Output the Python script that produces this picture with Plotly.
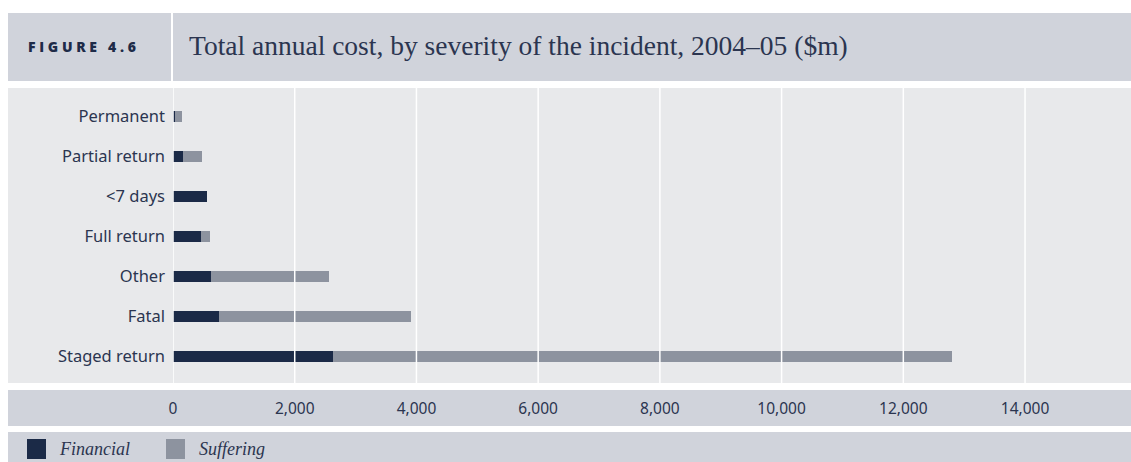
import plotly.graph_objects as go

# Severity categories, listed top to bottom as displayed
categories = ["Permanent", "Partial return", "<7 days", "Full return",
              "Other", "Fatal", "Staged return"]
financial = [28, 160, 564, 455, 625, 756, 2630]      # $m
suffering = [115, 322, 0, 148, 1940, 3157, 10176]    # $m
tick_values = [0, 2000, 4000, 6000, 8000, 10000, 12000, 14000]
tick_labels = ["0", "2,000", "4,000", "6,000", "8,000", "10,000", "12,000", "14,000"]

NAVY = "#1b2a47"
GREY = "#8d939f"
BAND = "#d0d3db"
PLOT_BG = "#e8e9eb"
TEXT = "#2b3550"

W, H = 1131, 462
ML, MR, MT, MB = 173, 0, 88, 79
PW, PH = W - ML - MR, H - MT - MB


def px_x(x):
    return (x - ML) / PW


def px_y(y):
    return (H - MB - y) / PH


fig = go.Figure()
fig.add_trace(go.Bar(y=categories, x=financial, orientation="h", name="Financial",
                     marker=dict(color=NAVY, line=dict(width=0)), width=0.275))
fig.add_trace(go.Bar(y=categories, x=suffering, orientation="h", name="Suffering",
                     marker=dict(color=GREY, line=dict(width=0)), width=0.275))

shapes = []
# header band with divider
shapes.append(dict(type="rect", xref="paper", yref="paper", layer="below",
                   x0=px_x(8), x1=px_x(W), y0=px_y(81), y1=px_y(13),
                   fillcolor=BAND, line=dict(width=0)))
shapes.append(dict(type="line", xref="paper", yref="paper", layer="below",
                   x0=px_x(172), x1=px_x(172), y0=px_y(81), y1=px_y(13),
                   line=dict(color="white", width=2)))
# plot band (extends under the category labels)
shapes.append(dict(type="rect", xref="paper", yref="paper", layer="below",
                   x0=px_x(8), x1=px_x(W), y0=px_y(383), y1=px_y(88),
                   fillcolor=PLOT_BG, line=dict(width=0)))
# axis label band
shapes.append(dict(type="rect", xref="paper", yref="paper", layer="below",
                   x0=px_x(8), x1=px_x(W), y0=px_y(426), y1=px_y(390),
                   fillcolor=BAND, line=dict(width=0)))
# legend band
shapes.append(dict(type="rect", xref="paper", yref="paper", layer="below",
                   x0=px_x(8), x1=px_x(W), y0=px_y(H + 2), y1=px_y(432),
                   fillcolor=BAND, line=dict(width=0)))
# white gridlines drawn over the bars
for v in tick_values:
    shapes.append(dict(type="line", xref="x", yref="paper", layer="above",
                       x0=v, x1=v, y0=0, y1=1,
                       line=dict(color="white", width=1.5)))
# legend swatches
for x0, col in [(27, NAVY), (166, GREY)]:
    shapes.append(dict(type="rect", xref="paper", yref="paper", layer="above",
                       x0=px_x(x0), x1=px_x(x0 + 19), y0=px_y(459), y1=px_y(439),
                       fillcolor=col, line=dict(width=0)))

annotations = [
    dict(text='<span style="letter-spacing:3.7px">FIGURE 4.6</span>',
         xref="paper", yref="paper", x=px_x(26), y=px_y(46), xanchor="left",
         yanchor="middle", showarrow=False,
         font=dict(family="Open Sans", size=14, color="#1e2b48", weight=800)),
    dict(text="Total annual cost, by severity of the incident, 2004\u201305 ($m)",
         xref="paper", yref="paper", x=px_x(187), y=px_y(45), xanchor="left",
         yanchor="middle", showarrow=False,
         font=dict(family="Liberation Serif", size=27.5, color=TEXT)),
    dict(text="<i>Financial</i>", xref="paper", yref="paper", x=px_x(57), y=px_y(449),
         xanchor="left", yanchor="middle", showarrow=False,
         font=dict(family="Liberation Serif", size=18, color=TEXT)),
    dict(text="<i>Suffering</i>", xref="paper", yref="paper", x=px_x(197), y=px_y(449),
         xanchor="left", yanchor="middle", showarrow=False,
         font=dict(family="Liberation Serif", size=18, color=TEXT)),
]

fig.update_layout(
    width=W, height=H,
    margin=dict(l=ML, r=MR, t=MT, b=MB, pad=0),
    paper_bgcolor="white", plot_bgcolor=PLOT_BG,
    barmode="stack", showlegend=False,
    shapes=shapes, annotations=annotations,
    xaxis=dict(range=[0, (W - ML) / 0.06086], tickvals=tick_values, ticktext=tick_labels,
               showgrid=False, zeroline=False, showline=False, ticks="",
               ticklabelstandoff=14,
               tickfont=dict(family="Noto Sans", size=15.5, color=TEXT)),
    yaxis=dict(categoryorder="array", categoryarray=categories[::-1],
               range=[-0.675, 6.7], showgrid=False, zeroline=False, showline=False,
               ticks="", ticklabelstandoff=7,
               tickfont=dict(family="Noto Sans", size=16.5, color=TEXT)),
)

fig.write_html("out.html")
